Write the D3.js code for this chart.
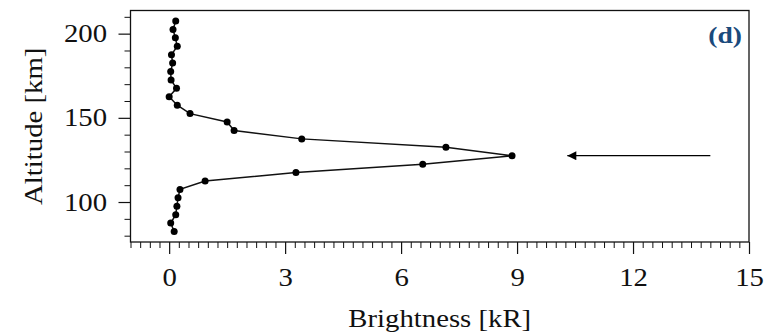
<!DOCTYPE html>
<html>
<head>
<meta charset="utf-8">
<script src="https://cdn.jsdelivr.net/npm/d3@7"></script>
<style>
  html, body { margin: 0; padding: 0; background: #fff; }
  svg text { font-family: "Liberation Serif", "Times New Roman", Times, serif; }
</style>
</head>
<body>
<svg id="chart" width="767" height="332"></svg>
<script>
// altitude (km) of each sample, top to bottom
const altitudes = [207.5, 202.5, 197.5, 192.5, 187.5, 182.5, 177.5, 172.5, 167.5, 162.5,
  157.5, 152.5, 147.5, 142.5, 137.5, 132.5, 127.5, 122.5, 117.5, 112.5,
  107.5, 102.5, 97.5, 92.5, 87.5, 82.5];
// brightness (kR)
const brightness = [0.17, 0.10, 0.16, 0.21, 0.06, 0.09, 0.04, 0.05, 0.19, 0.0,
  0.21, 0.54, 1.50, 1.68, 3.43, 7.16, 8.87, 6.56, 3.28, 0.93,
  0.28, 0.23, 0.20, 0.17, 0.04, 0.13];
const xTicks = [0, 3, 6, 9, 12, 15];
const yTicks = [100, 150, 200];
const arrowFrom = [14.0, 127.5];
const arrowTo = [10.3, 127.5];
const panelLabel = "(d)";

const points = altitudes.map((a, i) => ({ alt: a, val: brightness[i] }));

const svg = d3.select("#chart");
const mLeft = 130.5, mRight = 749, mTop = 10.5, mBottom = 242;
const fs = 25, stretch = 1.15; // the figure's serif font runs a bit wide

const x = d3.scaleLinear().domain([-1, 15]).range([mLeft, mRight]);
const y = d3.scaleLinear().domain([76.25, 213.75]).range([mBottom, mTop]);

// minor ticks
const xMinor = d3.range(-1, 15.001, 0.25).filter(v => !xTicks.some(t => Math.abs(t - v) < 1e-6));
const yMinor = d3.range(80, 213, 10).filter(v => !yTicks.includes(v));

svg.append("g")
  .attr("transform", `translate(0,${mBottom})`)
  .call(d3.axisBottom(x).tickValues(xMinor).tickSize(6).tickFormat(""))
  .call(g => g.select(".domain").remove())
  .call(g => g.selectAll("line").attr("stroke", "#111").attr("stroke-width", 1));

svg.append("g")
  .attr("transform", `translate(0,${mBottom})`)
  .call(d3.axisBottom(x).tickValues(xTicks).tickSize(12).tickPadding(14).tickFormat(d3.format("d")))
  .call(g => g.select(".domain").remove())
  .call(g => g.selectAll("line").attr("stroke", "#111").attr("stroke-width", 1.2))
  .call(g => g.selectAll("text")
    .attr("font-size", fs).attr("fill", "#111")
    .attr("transform", `scale(${stretch},1)`));

svg.append("g")
  .attr("transform", `translate(${mLeft},0)`)
  .call(d3.axisLeft(y).tickValues(yMinor).tickSize(6).tickFormat(""))
  .call(g => g.select(".domain").remove())
  .call(g => g.selectAll("line").attr("stroke", "#111").attr("stroke-width", 1));

svg.append("g")
  .attr("transform", `translate(${mLeft},0)`)
  .call(d3.axisLeft(y).tickValues(yTicks).tickSize(12).tickFormat(d3.format("d")))
  .call(g => g.select(".domain").remove())
  .call(g => g.selectAll("line").attr("stroke", "#111").attr("stroke-width", 1.2))
  .call(g => g.selectAll("text")
    .attr("font-size", fs).attr("fill", "#111")
    .attr("x", -23.5 / stretch)
    .attr("transform", `scale(${stretch},1)`));

// frame
svg.append("rect")
  .attr("x", mLeft).attr("y", mTop)
  .attr("width", mRight - mLeft).attr("height", mBottom - mTop)
  .attr("fill", "none").attr("stroke", "#111").attr("stroke-width", 1.3);

// profile line and dots
const line = d3.line().x(d => x(d.val)).y(d => y(d.alt));
svg.append("path")
  .datum(points)
  .attr("d", line)
  .attr("fill", "none")
  .attr("stroke", "#111")
  .attr("stroke-width", 1.5);

svg.selectAll("circle.pt")
  .data(points)
  .join("circle")
  .attr("class", "pt")
  .attr("cx", d => x(d.val))
  .attr("cy", d => y(d.alt))
  .attr("r", 3.5)
  .attr("fill", "#000");

// arrow annotation
svg.append("defs").append("marker")
  .attr("id", "head")
  .attr("viewBox", "0 0 10 10")
  .attr("refX", 10).attr("refY", 5)
  .attr("markerWidth", 15).attr("markerHeight", 9)
  .attr("markerUnits", "userSpaceOnUse")
  .attr("orient", "auto")
  .append("path")
  .attr("d", "M0,0 L10,5 L0,10 Z")
  .attr("fill", "#000");

svg.append("line")
  .attr("x1", x(arrowFrom[0])).attr("y1", y(arrowFrom[1]))
  .attr("x2", x(arrowTo[0])).attr("y2", y(arrowTo[1]))
  .attr("stroke", "#000").attr("stroke-width", 1.3)
  .attr("marker-end", "url(#head)");

// panel label
svg.append("text")
  .attr("transform", `translate(742,43) scale(${stretch},1)`)
  .attr("text-anchor", "end")
  .attr("font-size", 24).attr("font-weight", "bold")
  .attr("fill", "#1a4a7c")
  .text(panelLabel);

// axis labels
svg.append("text")
  .attr("transform", `translate(${(mLeft + mRight) / 2},327) scale(${stretch},1)`)
  .attr("text-anchor", "middle")
  .attr("font-size", fs).attr("fill", "#111")
  .text("Brightness [kR]");

svg.append("text")
  .attr("transform", `translate(42,${(mTop + mBottom) / 2}) rotate(-90) scale(${stretch},1)`)
  .attr("text-anchor", "middle")
  .attr("font-size", fs).attr("fill", "#111")
  .text("Altitude [km]");
</script>
</body>
</html>
